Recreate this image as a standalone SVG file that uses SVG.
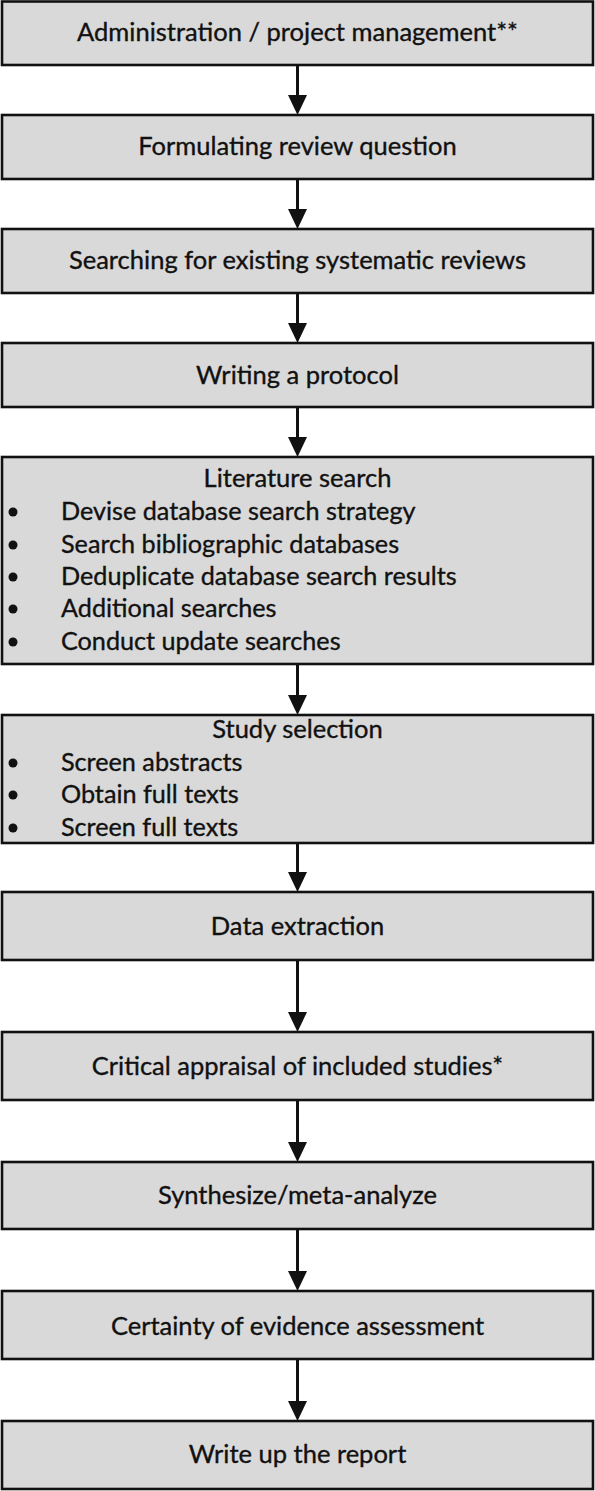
<svg xmlns="http://www.w3.org/2000/svg" width="595" height="1491" viewBox="0 0 595 1491">
<style>
.box{fill:#d9d9d9;stroke:#111;stroke-width:2.6}
.t{font-family:Lato,"Open Sans","Liberation Sans",sans-serif;font-size:25.5px;fill:#111;stroke:#111;stroke-width:0.35;text-anchor:middle;dominant-baseline:central}
.b{font-family:Lato,"Open Sans","Liberation Sans",sans-serif;font-size:25.2px;fill:#111;stroke:#111;stroke-width:0.35;dominant-baseline:central}
.dot{fill:#111}
.ln{stroke:#111;stroke-width:3;fill:none}
.ah{fill:#111}
</style>
<rect width="595" height="1491" fill="#fff"/>
<g id="connectors">
<line class="ln" x1="297.5" y1="65" x2="297.5" y2="97"/><polygon class="ah" points="288,95 307,95 297.5,115"/>
<line class="ln" x1="297.5" y1="179" x2="297.5" y2="211"/><polygon class="ah" points="288,209 307,209 297.5,229"/>
<line class="ln" x1="297.5" y1="293" x2="297.5" y2="325"/><polygon class="ah" points="288,323 307,323 297.5,343"/>
<line class="ln" x1="297.5" y1="407" x2="297.5" y2="439"/><polygon class="ah" points="288,437 307,437 297.5,457"/>
<line class="ln" x1="297.5" y1="664" x2="297.5" y2="697"/><polygon class="ah" points="288,695 307,695 297.5,715"/>
<line class="ln" x1="297.5" y1="843" x2="297.5" y2="874"/><polygon class="ah" points="288,872 307,872 297.5,892"/>
<line class="ln" x1="297.5" y1="960" x2="297.5" y2="1014"/><polygon class="ah" points="288,1012 307,1012 297.5,1032"/>
<line class="ln" x1="297.5" y1="1100" x2="297.5" y2="1144"/><polygon class="ah" points="288,1142 307,1142 297.5,1162"/>
<line class="ln" x1="297.5" y1="1229" x2="297.5" y2="1273"/><polygon class="ah" points="288,1271 307,1271 297.5,1291"/>
<line class="ln" x1="297.5" y1="1359" x2="297.5" y2="1403"/><polygon class="ah" points="288,1401 307,1401 297.5,1421"/>
</g>
<g id="n1"><rect class="box" x="2" y="1.5" width="591" height="63.5"/><text class="t" x="297.5" y="31">Administration / project management**</text></g>
<g id="n2"><rect class="box" x="2" y="115" width="591" height="64"/><text class="t" x="297.5" y="145">Formulating review question</text></g>
<g id="n3"><rect class="box" x="2" y="229" width="591" height="64"/><text class="t" x="297.5" y="259">Searching for existing systematic reviews</text></g>
<g id="n4"><rect class="box" x="2" y="343" width="591" height="64"/><text class="t" x="297.5" y="374">Writing a protocol</text></g>
<g id="n5"><rect class="box" x="2" y="457" width="591" height="207"/>
<text class="t" x="297.5" y="477">Literature search</text>
<circle class="dot" cx="13" cy="512" r="4.5"/><text class="b" x="61" y="510">Devise database search strategy</text>
<circle class="dot" cx="13" cy="545" r="4.5"/><text class="b" x="61" y="543">Search bibliographic databases</text>
<circle class="dot" cx="13" cy="577" r="4.5"/><text class="b" x="61" y="575">Deduplicate database search results</text>
<circle class="dot" cx="13" cy="609" r="4.5"/><text class="b" x="61" y="607">Additional searches</text>
<circle class="dot" cx="13" cy="642" r="4.5"/><text class="b" x="61" y="640">Conduct update searches</text>
</g>
<g id="n6"><rect class="box" x="2" y="715" width="591" height="128"/>
<text class="t" x="297.5" y="728">Study selection</text>
<circle class="dot" cx="13" cy="763" r="4.5"/><text class="b" x="61" y="761">Screen abstracts</text>
<circle class="dot" cx="13" cy="795" r="4.5"/><text class="b" x="61" y="793">Obtain full texts</text>
<circle class="dot" cx="13" cy="828" r="4.5"/><text class="b" x="61" y="826">Screen full texts</text>
</g>
<g id="n7"><rect class="box" x="2" y="892" width="591" height="68"/><text class="t" x="297.5" y="925">Data extraction</text></g>
<g id="n8"><rect class="box" x="2" y="1032" width="591" height="68"/><text class="t" x="297.5" y="1065">Critical appraisal of included studies*</text></g>
<g id="n9"><rect class="box" x="2" y="1162" width="591" height="67"/><text class="t" x="297.5" y="1194">Synthesize/meta-analyze</text></g>
<g id="n10"><rect class="box" x="2" y="1291" width="591" height="68"/><text class="t" x="297.5" y="1325">Certainty of evidence assessment</text></g>
<g id="n11"><rect class="box" x="2" y="1421" width="591" height="68"/><text class="t" x="297.5" y="1453">Write up the report</text></g>
</svg>
